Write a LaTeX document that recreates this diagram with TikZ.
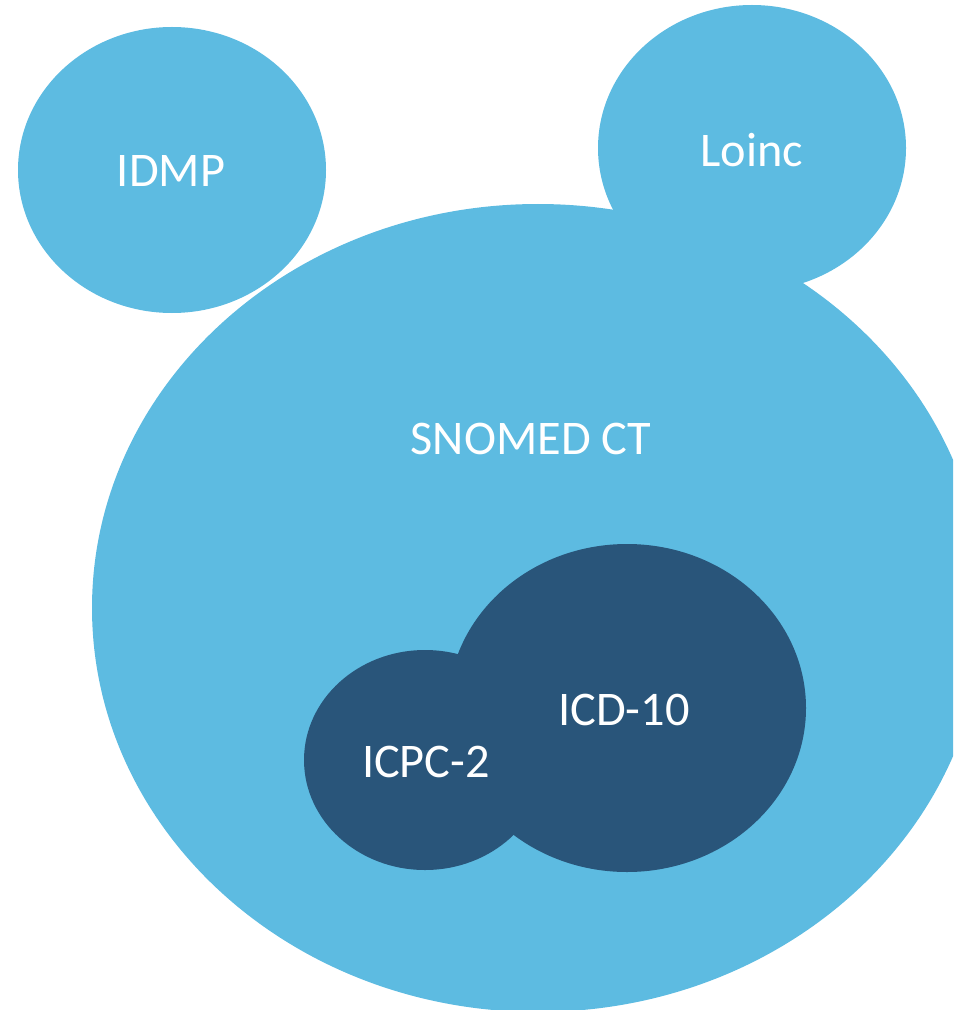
\documentclass[tikz,border=0pt]{standalone}
\usepackage{fontspec}
\setmainfont{Carlito}
\usepackage{tikz}
\definecolor{lightblue}{RGB}{93,187,225}
\definecolor{darkblue}{RGB}{41,85,122}

\begin{document}
\begin{tikzpicture}[x=0.02cm,y=-0.02cm,line cap=round,
    lbl/.style={text=white,anchor=base,font=\fontsize{27.5}{31}\selectfont}]
            \clip (0,0) rectangle (953,1010);
            \fill[lightblue] (172,170) ellipse (154 and 143);   %idmp
            \fill[lightblue] (752,148) ellipse (154 and 143);   %loinc
            \fill[lightblue] (538,608) ellipse (446 and 404);   %snomed
            \fill[darkblue] (627,708) ellipse (179 and 164);    %icd
            \fill[darkblue] (425,760) ellipse (121 and 110);    %icpc
            \node[lbl] (idmp) at (171,187) {IDMP};
            \node[lbl] (loinc) at (752,167) {Loinc};
            \node[lbl] (snomed) at (531,454) {SNOMED CT};
            \node[lbl] (icd) at (624,725) {ICD-10};
            \node[lbl] (icpc) at (426,777) {ICPC-2};
            \end{tikzpicture}
\end{document}
